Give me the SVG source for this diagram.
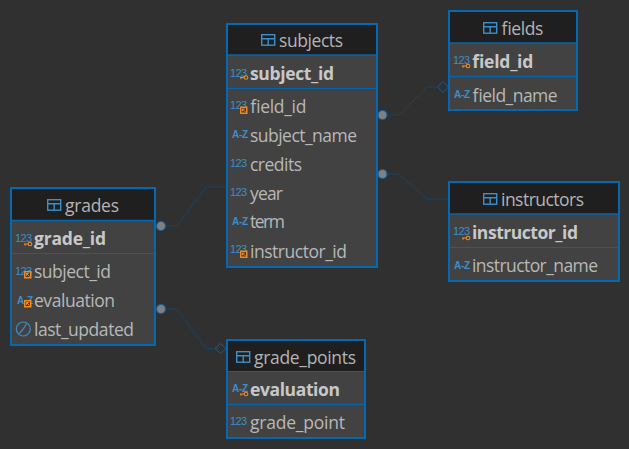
<svg xmlns="http://www.w3.org/2000/svg" width="629" height="449" viewBox="0 0 629 449">
<style>
.box{fill:#424242;stroke:#0667b3;stroke-width:2}
.head{fill:#1f1f1f}
.sep{stroke:#0565ad;stroke-width:1}
.sep2{stroke:#0565ad;stroke-width:1.5}
text{font-family:"Open Sans","Noto Sans","Liberation Sans",sans-serif;fill:#b8b8b8;font-size:17.5px}
.t{fill:#b4b4b4}
.b{font-weight:700;fill:#c8c8c8}
.ic{fill:#3d8ec9;font-size:11px;letter-spacing:-0.6px;font-family:"Liberation Sans",sans-serif}
.az{fill:#3d8ec9;font-size:10px;letter-spacing:-0.3px;font-weight:700;font-family:"Liberation Sans",sans-serif}
.tbl{fill:none;stroke:#3d8ec9;stroke-width:1.4}
.k{fill:none;stroke:#f08a1d;stroke-width:1.1}
.fk{fill:#3a3a3a;stroke:#f08a1d;stroke-width:1.5}
.fk2{fill:none;stroke:#f08a1d;stroke-width:1}
.conn{fill:none;stroke:#0b4f85;stroke-width:1;stroke-dasharray:1.5 1}
.dot{fill:#808080;stroke:#0d5f9e;stroke-width:1.2}
.dia{fill:none;stroke:#0d5f9e;stroke-width:1}
.clk{fill:none;stroke:#3d8ec9;stroke-width:1.2}
</style>
<defs>
<g id="tbl"><rect class="tbl" x="0.7" y="0.7" width="13" height="10.5"/><path class="tbl" d="M0.7 4.7H13.700M7.200 4.700V11"/></g>
<g id="key"><path class="k" d="M0 3H4.500"/><path class="k" d="M1 3V4.800"/><circle class="k" cx="6" cy="3" r="1.800"/></g>
<g id="fkey"><rect class="fk" x="0.75" y="0.75" width="6" height="6"/><path class="fk2" d="M5.500 5.500L2.500 2.500M2.500 4.800V2.500H4.800"/></g>
</defs>
<rect width="629" height="449" fill="#303030"/>
<g id="connectors">
<path class="conn" d="M160 226H177L206 187H227"/>
<path class="conn" d="M160 309H177L206 348.500H219"/>
<path class="conn" d="M382 115H399L427 87H438"/>
<path class="conn" d="M382 174H399L427 199H449"/>
<circle class="dot" cx="161" cy="226" r="4.500"/>
<circle class="dot" cx="161" cy="309" r="4.500"/>
<circle class="dot" cx="382.500" cy="115" r="4.500"/>
<circle class="dot" cx="382.500" cy="174" r="4.500"/>
<path class="dia" d="M215 348.500L220.500 343.500L226 348.500L220.500 353.500Z"/>
<path class="dia" d="M437.500 87L443 81.500L448.500 87L443 92.500Z"/>
</g>
<g id="subjects">
<rect class="box" x="227" y="24" width="150" height="243"/>
<rect class="head" x="228" y="25" width="148" height="30"/>
<path class="sep2" d="M228 55H376"/><path class="sep" d="M228 88.500H376"/>
<use href="#tbl" x="261" y="34"/>
<text class="t" x="279" y="47" textLength="64">subjects</text>
<text class="ic" x="230" y="77">123</text><use href="#key" x="240" y="74.500"/>
<text class="b" x="250" y="80" textLength="84">subject_id</text>
<text class="ic" x="230" y="109">123</text><use href="#fkey" x="240" y="106.500"/>
<text x="250" y="113" textLength="56">field_id</text>
<text class="az" x="232" y="138">A-Z</text>
<text x="250" y="142" textLength="107">subject_name</text>
<text class="ic" x="230" y="167">123</text>
<text x="250" y="171" textLength="52">credits</text>
<text class="ic" x="230" y="196">123</text>
<text x="250" y="200" textLength="33">year</text>
<text class="az" x="232" y="225">A-Z</text>
<text x="250" y="228" textLength="35">term</text>
<text class="ic" x="230" y="253">123</text><use href="#fkey" x="240" y="250.500"/>
<text x="250" y="258" textLength="97">instructor_id</text>
</g>
<g id="fields">
<rect class="box" x="449" y="11" width="128" height="99"/>
<rect class="head" x="450" y="12" width="126" height="31"/>
<path class="sep2" d="M450 43H576"/><path class="sep2" d="M450 76.500H576"/>
<use href="#tbl" x="483" y="22"/>
<text class="t" x="501" y="35" textLength="42">fields</text>
<text class="ic" x="453" y="64">123</text><use href="#key" x="462" y="63"/>
<text class="b" x="472" y="68" textLength="61">field_id</text>
<text class="az" x="454" y="98">A-Z</text>
<text x="472" y="102" textLength="85">field_name</text>
</g>
<g id="instructors">
<rect class="box" x="449" y="182" width="170" height="99"/>
<rect class="head" x="450" y="183" width="168" height="31"/>
<path class="sep2" d="M450 214H618"/><path class="sep" d="M450 247.500H618"/>
<use href="#tbl" x="483" y="193"/>
<text class="t" x="501" y="206" textLength="83">instructors</text>
<text class="ic" x="453" y="235">123</text><use href="#key" x="462" y="235"/>
<text class="b" x="472" y="239" textLength="106">instructor_id</text>
<text class="az" x="454" y="269">A-Z</text>
<text x="472" y="272" textLength="126">instructor_name</text>
</g>
<g id="grades">
<rect class="box" x="11" y="188" width="144" height="157"/>
<rect class="head" x="12" y="189" width="142" height="31"/>
<path class="sep2" d="M12 220.500H154"/><path class="sep" d="M12 253.500H154"/>
<use href="#tbl" x="47" y="199"/>
<text class="t" x="65" y="212" textLength="54">grades</text>
<text class="ic" x="15" y="242">123</text><use href="#key" x="24" y="241"/>
<text class="b" x="34" y="245" textLength="72">grade_id</text>
<text class="ic" x="15" y="275">123</text><use href="#fkey" x="24" y="271"/>
<text x="34" y="278" textLength="77">subject_id</text>
<text class="az" x="17" y="304">A-Z</text><use href="#fkey" x="24" y="300"/>
<text x="34" y="307" textLength="81">evaluation</text>
<circle class="clk" cx="23.300" cy="329" r="7"/><path class="clk" d="M23.300 329L26.500 323.500M23.300 329L19.500 333.500"/>
<text x="34" y="336" textLength="100">last_updated</text>
</g>
<g id="grade_points">
<rect class="box" x="227" y="340" width="138" height="98"/>
<rect class="head" x="228" y="341" width="136" height="30"/>
<path class="sep" d="M228 371.500H364"/><path class="sep2" d="M228 404.500H364"/>
<use href="#tbl" x="236" y="351"/>
<text class="t" x="254" y="364" textLength="102">grade_points</text>
<text class="az" x="232" y="392">A-Z</text><use href="#key" x="240" y="391"/>
<text class="b" x="250" y="396" textLength="90">evaluation</text>
<text class="ic" x="230" y="425">123</text>
<text x="250" y="429" textLength="95">grade_point</text>
</g>
</svg>
